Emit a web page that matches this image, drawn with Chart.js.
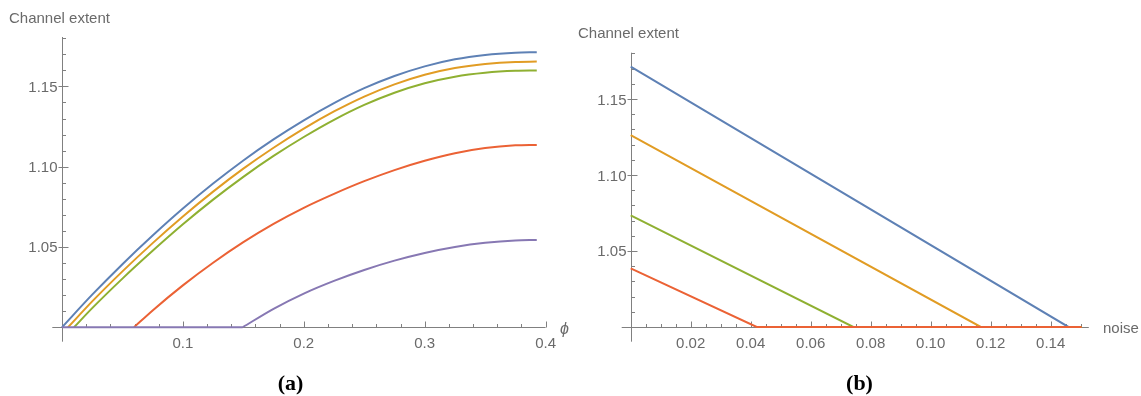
<!DOCTYPE html>
<html>
<head>
<meta charset="utf-8">
<script src="https://cdn.jsdelivr.net/npm/chart.js@4.4.1/dist/chart.umd.min.js"></script>
<style>
  html, body { margin: 0; padding: 0; background: #fff; }
  #wrap { position: relative; width: 1141px; height: 396px; overflow: hidden; }
  canvas { position: absolute; top: 0; }
  #chart-phi { left: 0; }
  #chart-noise { left: 576px; }
</style>
</head>
<body>
<div id="wrap">
  <canvas id="chart-phi" width="576" height="396"></canvas>
  <canvas id="chart-noise" width="565" height="396"></canvas>
</div>
<script>
// (a) channel extent vs phi
const phiSteps = [0, 0.025, 0.05, 0.075, 0.1, 0.125, 0.15, 0.175, 0.2, 0.225, 0.25, 0.275, 0.3, 0.325, 0.35, 0.375, 0.3927];
const phiStart = [0, 0.005, 0.010, 0.0596, 0.1494];
const extentBlue   = [1.0000, 1.0203, 1.0393, 1.0571, 1.0739, 1.0895, 1.1039, 1.1170, 1.1289, 1.1396, 1.1489, 1.1565, 1.1625, 1.1669, 1.1696, 1.1710, 1.1713];
const extentOrange = [null, 1.0161, 1.0348, 1.0524, 1.0690, 1.0845, 1.0988, 1.1118, 1.1237, 1.1344, 1.1437, 1.1513, 1.1573, 1.1615, 1.1640, 1.1653, 1.1655];
const extentGreen  = [null, 1.0119, 1.0303, 1.0476, 1.0641, 1.0795, 1.0937, 1.1067, 1.1185, 1.1292, 1.1385, 1.1461, 1.1520, 1.1561, 1.1585, 1.1597, 1.1599];
const extentRed    = [null, null, null, 1.0105, 1.0261, 1.0402, 1.0530, 1.0644, 1.0744, 1.0831, 1.0910, 1.0979, 1.1037, 1.1084, 1.1116, 1.1133, 1.1136];
const extentPurple = [null, null, null, null, null, null, null, 1.0115, 1.0210, 1.0289, 1.0357, 1.0415, 1.0463, 1.0500, 1.0526, 1.0541, 1.0544];
const phiTicks = [0.1, 0.2, 0.3, 0.4];
const phiTickLabels = ['0.1', '0.2', '0.3', '0.4'];

// (b) channel extent vs noise
const noiseStartExtent = [1.1714, 1.1263, 1.0735, 1.0386];
const noiseZero = [0.1459, 0.1167, 0.0742, 0.0420];
const noiseEnd = 0.1503;
const noiseTicks = [0.02, 0.04, 0.06, 0.08, 0.10, 0.12, 0.14];
const noiseTickLabels = ['0.02', '0.04', '0.06', '0.08', '0.10', '0.12', '0.14'];

const extentTicks = [1.05, 1.10, 1.15];
const extentTickLabels = ['1.05', '1.10', '1.15'];

const COLORS = ['#5E81B5', '#E19C24', '#8FB032', '#EB6235', '#8778B3'];
const AXIS = '#808080';
const TEXT = '#6a6a6a';
const SANS = '"Liberation Sans", Arial, sans-serif';

// axes through the origin, ticks pointing into the plot
function mmaAxes(cfg) {
  return {
    id: 'mmaAxes',
    beforeDatasetsDraw(chart) {
      const { ctx, scales: { x, y } } = chart;
      const ox = Math.round(x.getPixelForValue(0)) + 0.5;
      const oy = Math.round(y.getPixelForValue(1)) + 0.5;
      ctx.save();
      ctx.strokeStyle = AXIS;
      ctx.lineWidth = 1;
      ctx.beginPath();
      ctx.moveTo(x.left, oy); ctx.lineTo(x.right, oy);
      ctx.moveTo(ox, y.top); ctx.lineTo(ox, y.bottom);
      for (let v = cfg.xMinorStep; v <= x.max + 1e-9; v += cfg.xMinorStep) {
        const px = Math.round(x.getPixelForValue(v)) + 0.5;
        const major = cfg.xTicks.some(t => Math.abs(t - v) < 1e-6);
        ctx.moveTo(px, oy); ctx.lineTo(px, oy - (major ? 6 : 3.5));
      }
      for (let v = 1 + cfg.yMinorStep; v <= y.max + 1e-9; v += cfg.yMinorStep) {
        const py = Math.round(y.getPixelForValue(v)) + 0.5;
        const major = cfg.yTicks.some(t => Math.abs(t - v) < 1e-6);
        ctx.moveTo(major ? ox - 4 : ox, py); ctx.lineTo(ox + (major ? 6 : 3.5), py);
      }
      ctx.stroke();

      ctx.fillStyle = TEXT;
      ctx.font = '15px ' + SANS;
      ctx.textAlign = 'center';
      ctx.textBaseline = 'alphabetic';
      cfg.xTicks.forEach((t, i) => ctx.fillText(cfg.xLabels[i], x.getPixelForValue(t), oy + 20.5));
      ctx.textAlign = 'right';
      cfg.yTicks.forEach((t, i) => ctx.fillText(cfg.yLabels[i], ox - 5, y.getPixelForValue(t) + 5.5));

      ctx.textAlign = 'left';
      ctx.fillText('Channel extent', cfg.titleX, cfg.titleY);
      ctx.font = cfg.xTitleFont;
      ctx.textBaseline = 'middle';
      ctx.fillText(cfg.xTitle, cfg.xTitleX, oy + cfg.xTitleDy);

      ctx.fillStyle = '#000';
      ctx.font = 'bold 22px "Liberation Serif", "Times New Roman", serif';
      ctx.textAlign = 'center';
      ctx.textBaseline = 'alphabetic';
      ctx.fillText(cfg.panel, cfg.panelX, 390);
      ctx.restore();
    }
  };
}

function risingPoints(start, values) {
  const pts = [{ x: start, y: 1 }];
  phiSteps.forEach((p, i) => {
    if (values[i] !== null && p > start) pts.push({ x: p, y: values[i] });
  });
  return pts;
}

const lineStyle = (color, order) => ({
  borderColor: color,
  borderWidth: 2,
  pointRadius: 0,
  fill: false,
  order,
});

const baseOptions = (xmin, xmax, ymin, ymax, padding) => ({
  responsive: false,
  animation: false,
  events: [],
  layout: { padding },
  plugins: { legend: { display: false }, tooltip: { enabled: false } },
  scales: {
    x: { type: 'linear', display: false, min: xmin, max: xmax },
    y: { type: 'linear', display: false, min: ymin, max: ymax },
  },
});

const phiSeries = [extentBlue, extentOrange, extentGreen, extentRed, extentPurple];
const phiDatasets = phiSeries.map((vals, i) => ({
  data: risingPoints(phiStart[i], vals),
  cubicInterpolationMode: 'monotone',
  ...lineStyle(COLORS[i], 5 - i),
}));
// flat stretch of the last curve before it lifts off
phiDatasets.push({
  data: [{ x: 0, y: 1 }, { x: phiStart[4], y: 1 }],
  ...lineStyle(COLORS[4], 0),
});

new Chart(document.getElementById('chart-phi'), {
  type: 'line',
  data: { datasets: phiDatasets },
  options: baseOptions(-0.008, 0.4, 0.991, 1.1808, { left: 52.3, right: 30.4, top: 37, bottom: 54.3 }),
  plugins: [mmaAxes({
    xMinorStep: 0.02, yMinorStep: 0.01,
    xTicks: phiTicks, xLabels: phiTickLabels,
    yTicks: extentTicks, yLabels: extentTickLabels,
    titleX: 9, titleY: 22.5,
    xTitle: 'ϕ', xTitleX: 560, xTitleDy: 2, xTitleFont: 'italic 16px ' + SANS,
    panel: '(a)', panelX: 290.5,
  })],
});

const noiseDatasets = noiseStartExtent.map((v0, i) => ({
  data: [{ x: 0, y: v0 }, { x: noiseZero[i], y: 1 }, { x: noiseEnd, y: 1 }],
  tension: 0,
  ...lineStyle(COLORS[i], 4 - i),
}));

new Chart(document.getElementById('chart-noise'), {
  type: 'line',
  data: { datasets: noiseDatasets },
  options: baseOptions(-0.003, 0.1527, 0.9903, 1.1805, { left: 45.7, right: 52.2, top: 52.7, bottom: 54.3 }),
  plugins: [mmaAxes({
    xMinorStep: 0.005, yMinorStep: 0.01,
    xTicks: noiseTicks, xLabels: noiseTickLabels,
    yTicks: extentTicks, yLabels: extentTickLabels,
    titleX: 2, titleY: 38,
    xTitle: 'noise', xTitleX: 527, xTitleDy: 1, xTitleFont: '15px ' + SANS,
    panel: '(b)', panelX: 283.5,
  })],
});
</script>
</body>
</html>
